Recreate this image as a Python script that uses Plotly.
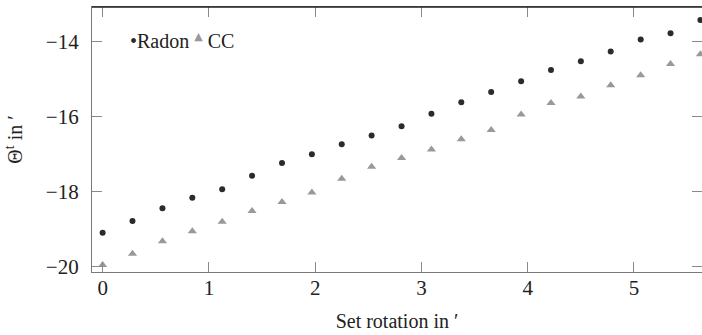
import plotly.graph_objects as go

set_rotation = [0, 0.281, 0.563, 0.844, 1.125, 1.406, 1.688, 1.969, 2.25, 2.531,
                2.813, 3.094, 3.375, 3.656, 3.938, 4.219, 4.5, 4.781, 5.063, 5.344, 5.625]
radon = [-19.09, -18.78, -18.44, -18.16, -17.93, -17.57, -17.23, -17.00, -16.73, -16.50,
         -16.25, -15.92, -15.61, -15.34, -15.05, -14.75, -14.52, -14.26, -13.94, -13.77, -13.42]
cc = [-19.95, -19.65, -19.32, -19.05, -18.80, -18.51, -18.27, -18.02, -17.65, -17.33,
      -17.10, -16.87, -16.60, -16.35, -15.94, -15.63, -15.46, -15.16, -14.89, -14.59, -14.33]
x_ticks = [0, 1, 2, 3, 4, 5]
y_ticks = [-20, -18, -16, -14]

FONT = "Liberation Serif"
DARK = "#2b2b2b"
GREY = "#999999"

fig = go.Figure()
fig.add_trace(go.Scatter(x=set_rotation, y=radon, mode="markers", name="Radon",
                         marker=dict(symbol="circle", size=6, color=DARK)))
fig.add_trace(go.Scatter(x=set_rotation, y=cc, mode="markers", name="CC",
                         marker=dict(symbol="triangle-up", size=8, color=GREY)))

axis_common = dict(showline=True, linecolor="#7a7a7a", linewidth=1.2, mirror="ticks",
                   ticks="inside", ticklen=10, tickcolor="#8a8a8a", tickwidth=1,
                   showgrid=False, zeroline=False,
                   tickfont=dict(family=FONT, size=21, color="#222"))

fig.update_xaxes(range=[-0.1, 5.64], tickvals=x_ticks, ticklabelstandoff=-3,
                 title=dict(text="Set rotation in ′", font=dict(family=FONT, size=20, color="#222"), standoff=14),
                 **axis_common)
fig.update_yaxes(range=[-20.14, -13.07], tickvals=y_ticks, ticklabelstandoff=8,
                 title=dict(text="Θ<sup>t</sup> in ′", font=dict(family=FONT, size=20, color="#222"), standoff=17),
                 **axis_common)

fig.add_shape(type="line", xref="paper", yref="paper", x0=0, x1=1, y0=1, y1=1,
              line=dict(color="#222", width=1.5))

# legend drawn as text with coloured symbol glyphs
legend_text = (f"<span style='color:{DARK}'>•</span>Radon "
               f"<sup><span style='color:{GREY};font-family:DejaVu Sans;font-size:11px'>▲</span></sup> CC")
fig.add_annotation(xref="paper", yref="paper", x=(128 - 92) / 610, y=(272 - 41) / 265,
                   xanchor="left", yanchor="middle", showarrow=False,
                   text=legend_text, font=dict(family=FONT, size=20, color="#222"))

fig.update_layout(
    width=702, height=335,
    margin=dict(l=92, r=0, t=7, b=63),
    plot_bgcolor="white", paper_bgcolor="white",
    font=dict(family=FONT, size=20, color="#222"),
    showlegend=False,
)

fig.write_html("out.html", config={"displayModeBar": False},
               post_script="document.body.style.margin='0';")
